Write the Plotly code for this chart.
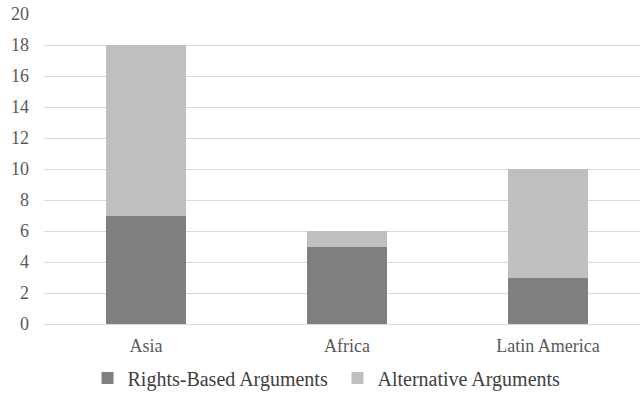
import plotly.graph_objects as go

# Regions compared in the chart
regions = ["Asia", "Africa", "Latin America"]

# Number of arguments of each type per region
rights_based = [7, 5, 3]
alternative = [11, 1, 7]

y_ticks = [0, 2, 4, 6, 8, 10, 12, 14, 16, 18, 20]

DARK = "#7f7f7f"
LIGHT = "#bfbfbf"
TEXT = "#595959"
GRID = "#d9d9d9"
FONT = "Liberation Serif"

fig = go.Figure()
fig.add_trace(go.Bar(
    x=regions, y=rights_based, name="Rights-Based Arguments",
    marker=dict(color=DARK, line=dict(width=0)), width=0.4,
))
fig.add_trace(go.Bar(
    x=regions, y=alternative, name="Alternative Arguments",
    marker=dict(color=LIGHT, line=dict(width=0)), width=0.4,
))

fig.update_layout(
    barmode="stack",
    width=640, height=397,
    margin=dict(l=44, r=0, t=14, b=73),
    paper_bgcolor="white", plot_bgcolor="white",
    font=dict(family=FONT, color=TEXT, size=18),
    legend=dict(
        orientation="h", x=0.073, xanchor="left",
        yref="container", y=0.048, yanchor="middle",
        font=dict(family=FONT, size=20, color="#404040"), itemwidth=30,
        entrywidth=205, traceorder="normal",
    ),
    xaxis=dict(
        range=[-0.507, 2.458], showgrid=False, showline=False,
        ticks="", tickfont=dict(size=18), ticklabelstandoff=9,
    ),
    yaxis=dict(
        range=[0, 20], tickvals=y_ticks, showgrid=True, gridcolor=GRID,
        gridwidth=1, zeroline=True, zerolinecolor=GRID, zerolinewidth=1,
        showline=False, ticks="", tickfont=dict(size=18), ticklabelstandoff=14,
    ),
    bargap=0.6,
)

fig.write_html("out.html")
